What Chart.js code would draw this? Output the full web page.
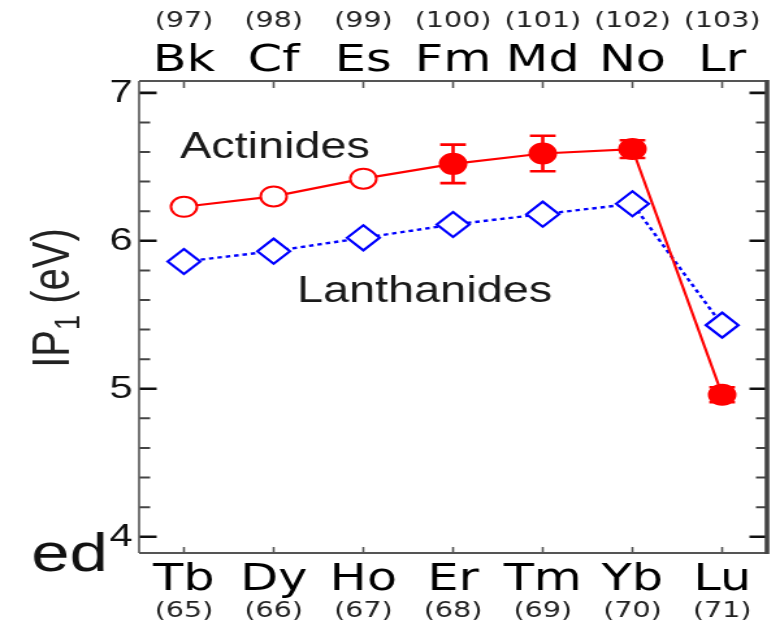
<!DOCTYPE html>
<html><head><meta charset="utf-8">
<script src="https://cdn.jsdelivr.net/npm/chart.js@4.4.0/dist/chart.umd.min.js"></script>
<style>
html,body{margin:0;padding:0;background:#fff;overflow:hidden;}
#wrap{width:771px;height:629px;overflow:hidden;position:relative;}
#c{transform:scaleX(1.3);transform-origin:0 0;display:block;}
</style></head><body>
<div id="wrap"><canvas id="c" width="593" height="629"></canvas></div>
<script>
// ---- data ----
const lanthanides = ['Tb','Dy','Ho','Er','Tm','Yb','Lu'];
const lanthanideZ = ['(65)','(66)','(67)','(68)','(69)','(70)','(71)'];
const actinides = ['Bk','Cf','Es','Fm','Md','No','Lr'];
const actinideZ = ['(97)','(98)','(99)','(100)','(101)','(102)','(103)'];
const lanthanideIP = [5.86, 5.93, 6.02, 6.11, 6.18, 6.25, 5.43];
const actinideIP = [6.23, 6.30, 6.42, 6.52, 6.59, 6.62, 4.96];
const actinideErrUp = [null, null, null, 0.13, 0.12, 0.06, 0.05];
const actinideErrDown = [null, null, null, 0.13, 0.12, 0.06, 0.05];
const actinideMeasured = [false, false, false, true, true, true, true];
const yMajorTicks = [4, 5, 6, 7];
const yMinorStep = 0.2;
const yMin = 3.89, yMax = 7.08;

const RED = '#ff0000', BLUE = '#0000ff';

const framePlugin = {
  id: 'frame',
  beforeDatasetsDraw(chart) {
    const {ctx, chartArea: a, scales} = chart;
    const ys = scales.y, xs = scales.x;
    ctx.save();
    for (let v = Math.ceil(yMin / yMinorStep) * yMinorStep; v <= yMax + 1e-9; v += yMinorStep) {
      const vv = Math.round(v * 10) / 10;
      const major = yMajorTicks.includes(vv);
      const py = ys.getPixelForValue(vv);
      ctx.strokeStyle = major ? '#111' : '#444';
      ctx.lineWidth = major ? 2.6 : 2;
      const len = major ? 13.5 : 8.5;
      ctx.beginPath();
      ctx.moveTo(a.left, py); ctx.lineTo(a.left + len, py);
      ctx.moveTo(a.right, py); ctx.lineTo(a.right - len, py);
      ctx.stroke();
    }
    ctx.strokeStyle = '#555';
    ctx.lineWidth = 1.6;
    for (let i = 0; i < lanthanides.length; i++) {
      const px = xs.getPixelForValue(i);
      ctx.beginPath();
      ctx.moveTo(px, a.bottom); ctx.lineTo(px, a.bottom - 6);
      ctx.moveTo(px, a.top); ctx.lineTo(px, a.top + 7);
      ctx.stroke();
    }
    ctx.strokeStyle = '#555';
    ctx.lineWidth = 1.6;
    ctx.beginPath();
    ctx.moveTo(a.left, a.top); ctx.lineTo(a.left, a.bottom);
    ctx.stroke();
    ctx.lineWidth = 2;
    ctx.beginPath();
    ctx.moveTo(a.left, a.top); ctx.lineTo(a.right, a.top);
    ctx.moveTo(a.left, a.bottom); ctx.lineTo(a.right, a.bottom);
    ctx.stroke();
    ctx.strokeStyle = '#444';
    ctx.lineWidth = 3.6;
    ctx.beginPath();
    ctx.moveTo(a.right, a.top - 1); ctx.lineTo(a.right, a.bottom + 1);
    ctx.stroke();
    ctx.restore();
  },
  afterDatasetsDraw(chart) {
    const {ctx, scales} = chart;
    const ys = scales.y, xs = scales.x;
    ctx.save();
    ctx.strokeStyle = RED;
    ctx.lineWidth = 2.6;
    const cap = 9.9;
    for (let i = 0; i < actinideIP.length; i++) {
      if (actinideErrUp[i] == null) continue;
      const px = xs.getPixelForValue(i);
      const top = ys.getPixelForValue(actinideIP[i] + actinideErrUp[i]);
      const bot = ys.getPixelForValue(actinideIP[i] - actinideErrDown[i]);
      ctx.beginPath();
      ctx.moveTo(px, top); ctx.lineTo(px, bot);
      ctx.moveTo(px - cap, top); ctx.lineTo(px + cap, top);
      ctx.moveTo(px - cap, bot); ctx.lineTo(px + cap, bot);
      ctx.stroke();
    }
    ctx.restore();
  },
  afterDraw(chart) {
    const {ctx} = chart;
    ctx.save();
    ctx.fillStyle = '#1a1a1a';
    ctx.textBaseline = 'alphabetic';
    ctx.textAlign = 'left';
    ctx.font = '36px "Liberation Sans", Arial, sans-serif';
    ctx.fillText('Actinides', 138.5, 158);
    ctx.fillText('Lanthanides', 228.5, 302);
    ctx.font = '53px "Liberation Sans", Arial, sans-serif';
    ctx.fillStyle = '#111';
    ctx.fillText('ed', 24, 571);
    ctx.translate(39, 298);
    ctx.rotate(-Math.PI / 2);
    const f1 = '40px "Liberation Sans", Arial, sans-serif';
    const f2 = '27px "Liberation Sans", Arial, sans-serif';
    ctx.font = f1; const w1 = ctx.measureText('IP').width; const w3 = ctx.measureText(' (eV)').width;
    ctx.font = f2; const w2 = ctx.measureText('1').width;
    const x0 = -(w1 + w2 + w3) / 2;
    const base = 14.3;
    ctx.fillStyle = '#222';
    ctx.font = f1; ctx.fillText('IP', x0, base);
    ctx.font = f2; ctx.fillText('1', x0 + w1, base + 8);
    ctx.font = f1; ctx.fillText(' (eV)', x0 + w1 + w2, base);
    ctx.restore();
  }
};

const catAxis = (labels, position, weight, size, pad, height, color) => ({
  type: 'category', axis: 'x', labels, position, weight, offset: true,
  grid: {display: false, drawTicks: false}, border: {display: false},
  ticks: {autoSkip: false, maxRotation: 0, padding: pad, color,
          font: {family: '"DejaVu Sans", sans-serif', size, lineHeight: 1}},
  afterFit: s => { s.height = height; s.paddingLeft = 0; s.paddingRight = 0; }
});

new Chart(document.getElementById('c'), {
  type: 'line',
  data: {
    labels: lanthanides,
    datasets: [
      {
        label: 'Actinides', data: actinideIP, xAxisID: 'x', yAxisID: 'y',
        borderColor: RED, borderWidth: 2.2, tension: 0,
        pointStyle: 'circle', pointRadius: 10, pointBorderWidth: 2,
        pointBorderColor: RED,
        pointBackgroundColor: actinideMeasured.map(m => m ? RED : '#ffffff')
      },
      {
        label: 'Lanthanides', data: lanthanideIP, xAxisID: 'x', yAxisID: 'y',
        borderColor: BLUE, borderWidth: 2.4, borderDash: [3.5, 3], tension: 0,
        pointStyle: 'rectRot', pointRadius: 12.5, pointBorderWidth: 2.2,
        pointBorderColor: BLUE, pointBackgroundColor: '#ffffff'
      }
    ]
  },
  options: {
    responsive: false, animation: false, devicePixelRatio: 1,
    layout: {autoPadding: false, padding: {left: 0, right: 3, top: 0, bottom: 0}},
    plugins: {legend: {display: false}, tooltip: {enabled: false}},
    scales: {
      x: catAxis(lanthanides, 'bottom', 0, 38, 8.5, 46.5, '#000'),
      xNumB: catAxis(lanthanideZ, 'bottom', 1, 22, 1, 29.5, '#222'),
      xTop: catAxis(actinides, 'top', 0, 38, 1, 45, '#000'),
      xNumT: catAxis(actinideZ, 'top', 1, 22, 3.5, 36, '#222'),
      y: {
        type: 'linear', min: yMin, max: yMax, position: 'left',
        grid: {display: false, drawTicks: false}, border: {display: false},
        afterBuildTicks: s => { s.ticks = yMajorTicks.map(v => ({value: v})); },
        ticks: {padding: 5, color: '#111',
                font: {family: '"Liberation Sans", Arial, sans-serif', size: 32, lineHeight: 1}},
        afterFit: s => { s.width = 107; }
      }
    }
  },
  plugins: [framePlugin]
});
</script>
</body></html>
